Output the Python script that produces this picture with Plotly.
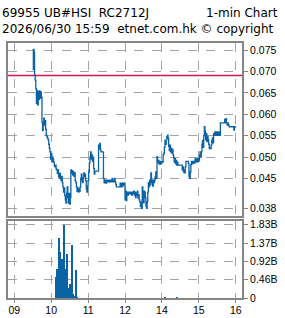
import plotly.graph_objects as go

# ---------------- data ----------------
title_left = "69955 UB#HSI  RC2712J"
title_right = "1-min Chart"
subtitle = "2026/06/30 15:59  etnet.com.hk © copyright"

ref_level = 0.0691  # horizontal reference line

price_times = [
    "09:30","09:31","09:32","09:33","09:34","09:35","09:36","09:37","09:38","09:39",
    "09:40","09:41","09:42","09:43","09:44","09:45","09:46","09:47","09:48","09:49",
    "09:50","09:51","09:52","09:53","09:54","09:55","09:56","09:57","09:58","09:59",
    "10:00","10:01","10:02","10:03","10:04","10:05","10:06","10:07","10:08","10:09",
    "10:10","10:11","10:12","10:13","10:14","10:15","10:16","10:17","10:18","10:19",
    "10:20","10:21","10:22","10:23","10:24","10:25","10:26","10:27","10:28","10:29",
    "10:30","10:31","10:32","10:33","10:34","10:35","10:36","10:37","10:38","10:39",
    "10:40","10:41","10:42","10:43","10:44","10:45","10:46","10:47","10:48","10:49",
    "10:50","10:51","10:52","10:53","10:54","10:55","10:56","10:57","10:58","10:59",
    "11:00","11:01","11:02","11:03","11:04","11:05","11:06","11:07","11:08","11:09",
    "11:10","11:11","11:16","11:17","11:18","11:19","11:20","11:21","11:24","11:25",
    "11:26","11:27","11:28","11:30","11:32","11:34","11:36","11:38","11:39","11:40",
    "11:42","11:43","11:44","11:45","11:46","11:50","11:51","11:52","11:53","11:54",
    "11:55","11:56","11:57","11:58","11:59","12:00",
    "13:00","13:01","13:02","13:03","13:04","13:05","13:06","13:07","13:08","13:09",
    "13:10","13:11","13:12","13:13","13:14","13:15","13:16","13:17","13:18","13:19",
    "13:20","13:21","13:22","13:23","13:24","13:25","13:26","13:27","13:28","13:29",
    "13:30","13:31","13:32","13:33","13:34","13:35","13:36","13:37","13:38","13:39",
    "13:40","13:41","13:42","13:43","13:44","13:45","13:46","13:47","13:48","13:49",
    "13:50","13:51","13:52","13:53","13:54","13:55","13:56","13:57","13:58","13:59",
    "14:00","14:01","14:02","14:03","14:04","14:05","14:06","14:07","14:08","14:09",
    "14:10","14:11","14:12","14:13","14:14","14:15","14:16","14:17","14:18","14:19",
    "14:20","14:21","14:22","14:23","14:24","14:25","14:26","14:28","14:30","14:31",
    "14:32","14:33","14:34","14:35","14:36","14:37","14:38","14:39","14:40","14:41",
    "14:42","14:43","14:44","14:45","14:46","14:47","14:48","14:49","14:50","14:51",
    "14:52","14:53","14:54","14:55","14:56","14:57","14:58","14:59","15:00","15:01",
    "15:02","15:03","15:04","15:05","15:06","15:07","15:08","15:09","15:10","15:11",
    "15:12","15:13","15:14","15:15","15:16","15:17","15:18","15:19","15:20","15:21",
    "15:22","15:23","15:24","15:25","15:26","15:27","15:28","15:29","15:30","15:31",
    "15:32","15:33","15:34","15:35","15:36","15:38","15:40","15:41","15:42","15:43",
    "15:44","15:45","15:46","15:47","15:48","15:49","15:51","15:53","15:54","15:55",
    "15:56","15:57","15:58","15:59",
]
prices = [
    0.0705,0.0752,0.0745,0.0692,0.0680,0.0660,0.0625,0.0656,0.0622,0.0653,
    0.0635,0.0655,0.0638,0.0652,0.0640,0.0582,0.0562,0.0580,0.0591,0.0575,
    0.0585,0.0565,0.0551,0.0548,0.0544,0.0540,0.0530,0.0520,0.0512,0.0495,
    0.0508,0.0489,0.0500,0.0495,0.0488,0.0480,0.0477,0.0481,0.0472,0.0470,
    0.0462,0.0470,0.0455,0.0450,0.0462,0.0452,0.0445,0.0455,0.0440,0.0430,
    0.0418,0.0428,0.0410,0.0400,0.0392,0.0415,0.0430,0.0405,0.0392,0.0415,
    0.0390,0.0405,0.0470,0.0462,0.0468,0.0458,0.0465,0.0455,0.0463,0.0445,
    0.0440,0.0430,0.0420,0.0428,0.0418,0.0425,0.0420,0.0430,0.0450,0.0460,
    0.0445,0.0440,0.0452,0.0463,0.0455,0.0460,0.0445,0.0425,0.0418,0.0432,
    0.0445,0.0465,0.0486,0.0500,0.0512,0.0495,0.0505,0.0490,0.0500,0.0473,
    0.0460,0.0467,0.0467,0.0528,0.0520,0.0532,0.0517,0.0512,0.0512,0.0450,
    0.0440,0.0446,0.0439,0.0446,0.0442,0.0446,0.0442,0.0446,0.0450,0.0442,
    0.0446,0.0450,0.0442,0.0436,0.0430,0.0430,0.0430,0.0439,0.0435,0.0430,
    0.0439,0.0432,0.0439,0.0435,0.0439,0.0432,
    0.0400,0.0420,0.0398,0.0412,0.0418,0.0411,0.0418,0.0415,0.0418,0.0413,
    0.0418,0.0411,0.0418,0.0415,0.0420,0.0411,0.0418,0.0405,0.0416,0.0410,
    0.0420,0.0404,0.0412,0.0400,0.0395,0.0384,0.0395,0.0380,0.0430,0.0405,
    0.0393,0.0420,0.0417,0.0405,0.0385,0.0380,0.0395,0.0418,0.0440,0.0430,
    0.0446,0.0435,0.0463,0.0440,0.0446,0.0432,0.0446,0.0440,0.0446,0.0455,
    0.0465,0.0450,0.0501,0.0488,0.0492,0.0484,0.0490,0.0483,0.0490,0.0486,
    0.0490,0.0488,0.0505,0.0509,0.0523,0.0539,0.0530,0.0540,0.0548,0.0551,
    0.0544,0.0525,0.0515,0.0528,0.0512,0.0520,0.0509,0.0518,0.0505,0.0498,
    0.0488,0.0496,0.0484,0.0492,0.0481,0.0488,0.0481,0.0481,0.0481,0.0481,
    0.0481,0.0470,0.0477,0.0465,0.0470,0.0463,0.0477,0.0490,0.0490,0.0490,
    0.0490,0.0485,0.0455,0.0450,0.0465,0.0482,0.0490,0.0484,0.0490,0.0486,
    0.0490,0.0486,0.0497,0.0490,0.0495,0.0488,0.0497,0.0490,0.0493,0.0505,
    0.0512,0.0500,0.0512,0.0530,0.0539,0.0523,0.0550,0.0571,0.0560,0.0540,
    0.0555,0.0536,0.0548,0.0541,0.0530,0.0520,0.0522,0.0520,0.0528,0.0539,
    0.0545,0.0533,0.0555,0.0551,0.0559,0.0551,0.0559,0.0551,0.0559,0.0551,
    0.0555,0.0559,0.0551,0.0580,0.0580,0.0580,0.0580,0.0580,0.0588,0.0580,
    0.0590,0.0580,0.0575,0.0580,0.0575,0.0571,0.0571,0.0571,0.0571,0.0571,
    0.0571,0.0563,0.0571,0.0568,
]

vol_times = [
    "10:07","10:08","10:09","10:10","10:11","10:12","10:13","10:14","10:15","10:16",
    "10:17","10:18","10:19","10:20","10:21","10:22","10:23","10:24","10:25","10:26",
    "10:27","10:28","10:29","10:30","10:31","10:32","10:33","10:34","10:35","10:36",
    "10:37","10:38","10:39","10:40","10:41","10:42","14:05","14:25",
]
vol_billion = [
    0.15,0.52,0.20,0.73,0.19,0.15,1.50,1.15,0.20,0.78,
    0.98,0.20,0.61,0.32,1.83,0.73,0.20,0.15,0.12,1.09,
    0.10,0.05,0.25,0.12,0.36,0.10,0.10,1.32,0.10,0.10,
    0.05,0.02,0.05,0.69,0.05,0.03,0.02,0.02,
]

price_ticks = [0.038, 0.045, 0.050, 0.055, 0.060, 0.065, 0.070, 0.075]
price_tick_text = ["0.038", "0.045", "0.050", "0.055", "0.060", "0.065", "0.070", "0.075"]
vol_ticks = [0, 0.4575, 0.915, 1.3725, 1.83]
vol_tick_text = ["0", "0.46B", "0.92B", "1.37B", "1.83B"]
hour_ticks = [0, 1, 2, 3, 4, 5, 6]
hour_tick_text = ["09", "10", "11", "12", "14", "15", "16"]


def session_pos(t):
    """Trading-session hour position; lunch break (12:00-13:00) removed."""
    h, m = map(int, t.split(":"))
    v = h + m / 60.0 - 9
    if h >= 13:
        v -= 1
    return v


px_x = [session_pos(t) for t in price_times]
vx = [session_pos(t) for t in vol_times]

LINE = "#0b63a5"
GRID = "#a4a4a4"
FRAME = "#858585"
TICKFONT = dict(family="Liberation Sans", size=10.5, color="#000000")

fig = go.Figure()
fig.add_trace(go.Scatter(
    x=[-0.17, 6.17], y=[ref_level, ref_level], mode="lines",
    line=dict(color="#d4145a", width=1.5), xaxis="x", yaxis="y", hoverinfo="skip"))
fig.add_trace(go.Scatter(
    x=px_x, y=prices, mode="lines", line=dict(color=LINE, width=1.3, shape="hv"),
    xaxis="x", yaxis="y"))
fig.add_trace(go.Bar(
    x=vx, y=vol_billion, width=1.0 / 60 * 1.3, marker=dict(color=LINE, line=dict(width=0)),
    xaxis="x2", yaxis="y2"))

xcommon = dict(range=[-0.17, 6.17], tickvals=hour_ticks, ticktext=hour_tick_text,
               showgrid=True, gridcolor=GRID, gridwidth=1, griddash="dash",
               showline=True, mirror=True, linecolor=FRAME, linewidth=2,
               zeroline=False, tickfont=TICKFONT, fixedrange=True, automargin=False)

ycommon = dict(side="right", ticks="outside", ticklen=4, tickcolor=FRAME,
               showgrid=True, gridcolor=GRID, gridwidth=1, griddash="dash",
               showline=True, mirror=True, linecolor=FRAME, linewidth=2,
               zeroline=False, tickfont=TICKFONT, automargin=False)

fig.update_layout(
    width=285, height=318,
    margin=dict(l=8, r=43, t=43, b=20),
    paper_bgcolor="white", plot_bgcolor="white",
    showlegend=False, bargap=0,
    xaxis=dict(**xcommon, anchor="y", showticklabels=False, ticks=""),
    yaxis=dict(**ycommon, domain=[0.3227, 1.0], range=[0.03627, 0.0767],
               tickvals=price_ticks, ticktext=price_tick_text),
    xaxis2=dict(**xcommon, anchor="y2", ticks="outside", ticklen=3, tickcolor=FRAME,
                ticklabelstandoff=-2),
    yaxis2=dict(**ycommon, domain=[0.0, 0.302], range=[0, 1.925],
                tickvals=vol_ticks, ticktext=vol_tick_text),
)

HFONT = dict(family="DejaVu Sans", size=12, color="#000000")
fig.add_annotation(text=title_left, xref="paper", yref="paper", x=-8 / 234, y=1 + 30 / 255,
                   xanchor="left", yanchor="middle", showarrow=False, font=HFONT)
fig.add_annotation(text=title_right, xref="paper", yref="paper", x=(280 - 8) / 234, y=1 + 30 / 255,
                   xanchor="right", yanchor="middle", showarrow=False, font=HFONT)
fig.add_annotation(text=subtitle, xref="paper", yref="paper", x=-8 / 234, y=1 + 14 / 255,
                   xanchor="left", yanchor="middle", showarrow=False, font=HFONT)

fig.write_html("out.html")
